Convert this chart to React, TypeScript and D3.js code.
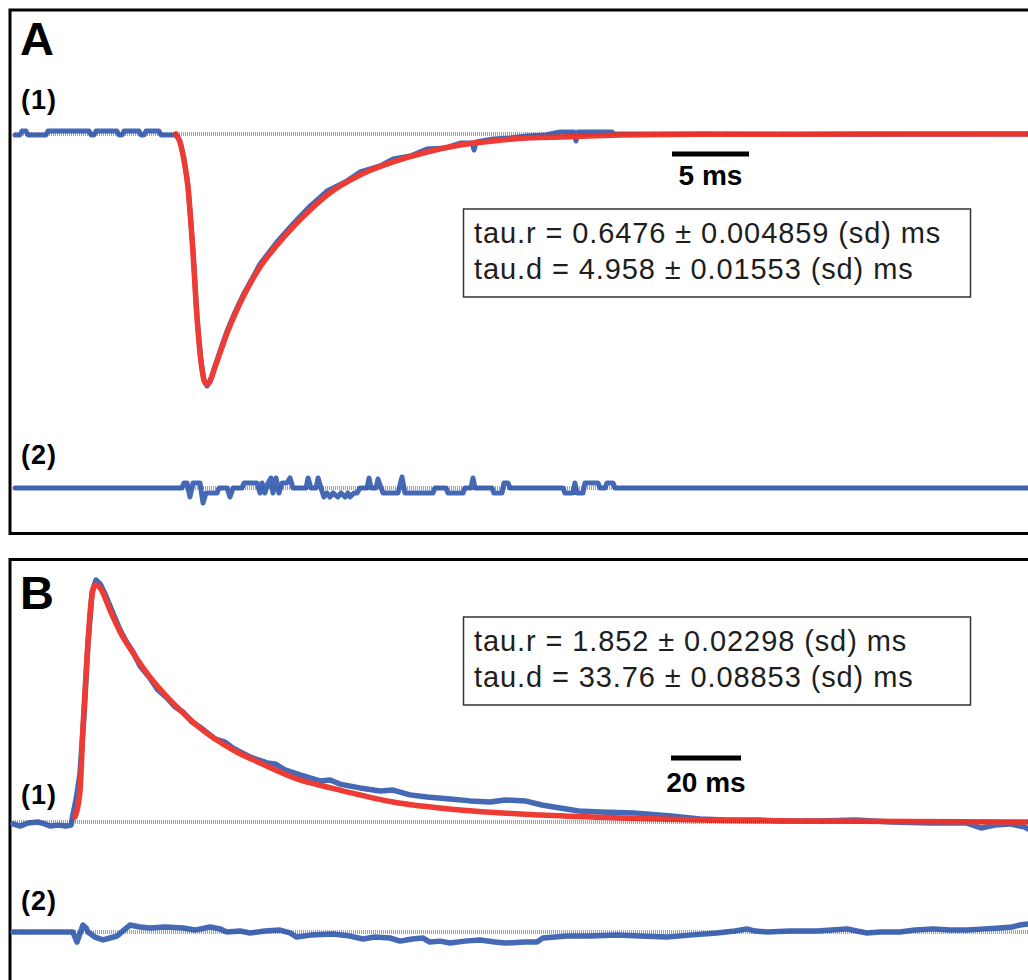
import { useEffect, useRef } from "react";
import * as d3 from "d3";

// ---- panel A (fast event), time in ms, amplitude in % of peak ----
const recordA1: [number, number][] = [
  [0, -0.4], [0.32, -0.4], [0.45, 1.2], [0.71, 1.2], [0.84, -0.4], [2.01, -0.4], [2.14, 1.2],
  [4.81, 1.2], [4.94, -0.4], [5.13, -0.4], [5.26, 1.2], [6.62, 1.2], [6.75, -0.4], [6.95, -0.4],
  [7.08, 1.2], [8.05, 1.2], [8.18, -0.4], [8.38, -0.4], [8.51, 1.2], [9.35, 1.2], [9.48, -0.4],
  [10.45, -0.4], [10.71, -2.8], [10.97, -9.6], [11.23, -20.4], [11.56, -46.8], [11.82, -73.2],
  [12.08, -90.8], [12.27, -98.4], [12.47, -100.8], [12.66, -99.2], [12.99, -92.8], [13.38, -85.6],
  [13.77, -78.8], [14.29, -71.2], [14.81, -64.4], [15.91, -52.0], [17.01, -43.2], [18.05, -36.0],
  [19.16, -28.8], [20.26, -22.8], [21.43, -19.2], [22.4, -15.2], [23.7, -12.8], [24.55, -10.0],
  [25.65, -8.8], [26.75, -6.0], [27.92, -5.6], [28.9, -3.6], [29.68, -3.6], [29.81, -6.4],
  [29.94, -3.2], [31.04, -2.0], [32.14, -1.6], [33.25, -0.8], [34.42, -0.4], [35.39, 0.8],
  [36.3, 0.8], [36.43, -2.8], [36.56, 0.8], [38.77, 0.8], [38.9, 0], [44.48, 0], [50.97, -0.2], [66, 0],
];

const fitA: [number, number][] = [
  [10.45, 0], [10.71, -3.2], [10.97, -10.4], [11.23, -21.2], [11.56, -47.6], [11.82, -73.6],
  [12.08, -91.2], [12.27, -98.4], [12.47, -100], [12.66, -98.8], [12.99, -93.2], [13.38, -86.4],
  [13.77, -79.6], [14.29, -72.0], [14.81, -65.2], [15.91, -53.2], [17.01, -44.4], [18.05, -37.2],
  [19.16, -30.4], [20.26, -24.4], [22.4, -16.4], [24.55, -11.2], [26.75, -7.2], [28.9, -4.4],
  [31.04, -2.8], [33.25, -1.6], [35.39, -1.2], [39.29, -0.4], [44.48, -0.1], [66, 0],
];

const residualA: [number, number][] = [
  [0, 0], [10.84, 0], [10.97, 2], [11.17, 2], [11.36, -3.6], [11.56, 2], [12.01, 2], [12.21, -6],
  [12.4, -2], [13.12, -2], [13.25, 0], [13.77, 0], [13.96, -3.6], [14.16, 0], [14.74, 0], [14.87, 2],
  [15.71, 2], [15.91, -2], [16.04, 2], [16.23, -2], [16.43, 2], [16.62, 4], [16.75, -2], [16.95, 4],
  [17.14, -2], [17.34, 2], [17.66, 2], [17.86, 4], [18.05, 0], [18.9, 0], [19.03, 4], [19.22, 0],
  [19.55, 0], [19.68, 4], [19.87, 0], [20.06, -3.6], [20.26, -2], [20.45, -3.6], [20.65, -2],
  [20.97, -3.6], [21.17, -2], [21.43, -3.6], [21.62, -2], [21.75, -3.6], [22.01, -2], [22.21, -2],
  [22.4, 0], [22.86, 0], [22.99, 4], [23.12, 0], [23.44, 0], [23.57, 3.6], [23.77, 0], [23.9, -2],
  [24.87, -2], [25.13, 4.4], [25.32, -2], [27.14, -2], [27.27, 0], [27.99, 0], [28.12, -2],
  [29.09, -2], [29.22, 0], [29.61, 0], [29.74, 4], [29.87, 0], [30.97, 0], [31.1, -2], [31.62, -2],
  [31.75, 2], [32.01, 2], [32.14, 0], [35.58, 0], [35.71, -2], [36.23, -2], [36.36, 2], [36.49, -2],
  [36.88, -2], [37.01, 2], [37.86, 2], [37.99, 0], [38.31, 0], [38.44, 2], [38.83, 2], [38.96, 0], [66, 0],
];

const fitTextA = ["tau.r = 0.6476 \u00b1 0.004859 (sd) ms", "tau.d = 4.958 \u00b1 0.01553 (sd) ms"];

// ---- panel B (slow event) ----
const recordB1: [number, number][] = [
  [0, -0.8], [2.0, -1.7], [4.3, -0.4], [7.1, 0], [9.1, -0.8], [10.6, -1.7], [12.9, -1.3], [15.1, -1.7],
  [16.6, -1.3], [17.1, 2.9], [18.0, 9.2], [19.1, 19.6], [20.3, 44.6], [21.4, 73.8], [22.6, 95.8],
  [23.7, 100.8], [24.9, 99.2], [26.3, 95.0], [27.7, 90.0], [30.6, 80.0], [32.6, 74.6], [34.3, 70.8],
  [36.3, 65.0], [39.1, 60.0], [41.4, 55.0], [44.0, 51.7], [46.3, 47.9], [48.6, 45.8], [51.1, 41.7],
  [53.4, 39.6], [57.7, 34.6], [60.6, 33.3], [62.9, 30.8], [67.7, 27.1], [72.6, 24.6], [74.9, 24.2],
  [77.7, 21.7], [82.0, 19.6], [87.7, 17.1], [90.6, 17.5], [93.4, 15.8], [99.1, 14.2], [104.9, 12.9],
  [108.6, 13.3], [113.4, 11.3], [118.3, 10.4], [124.9, 9.6], [130.6, 8.8], [136.3, 8.3], [140.6, 9.2],
  [146.3, 8.8], [151.1, 7.1], [156.3, 5.8], [161.7, 4.6], [167.7, 4.2], [177.4, 3.8], [188.0, 2.5],
  [196.3, 1.3], [203.7, 0.8], [213.4, 0.8], [219.7, 0.4], [230.6, 0.4], [240.6, 0.8], [251.1, 0],
  [262.0, -0.4], [272.3, -0.4], [276.6, -2.5], [280.6, -1.3], [284.9, -0.8], [289.1, -2.1], [290, -2.9],
];

const fitB: [number, number][] = [
  [17.7, 2.1], [19.1, 12.1], [20.0, 39.6], [21.1, 67.5], [22.3, 91.3], [23.4, 98.8], [24.9, 97.5],
  [27.7, 88.3], [30.6, 79.2], [34.3, 70.4], [39.1, 60.4], [44.0, 52.1], [48.6, 45.4], [53.4, 39.2],
  [62.9, 30.0], [70.6, 24.6], [82.0, 17.5], [89.7, 14.6], [93.4, 13.3], [108.6, 8.3], [127.7, 5.0],
  [150.6, 2.9], [173.4, 1.7], [196.3, 0.8], [224.9, 0.4], [290, 0],
];

const residualB: [number, number][] = [
  [0, 0], [17.1, 0], [18.3, -4.2], [19.1, -0.8], [20.0, 2.9], [20.9, 1.7], [21.4, 0], [23.4, -2.1],
  [25.7, -3.3], [27.7, -2.5], [29.7, -1.7], [31.7, 0.8], [33.4, 2.9], [36.3, 2.1], [39.1, 1.7],
  [43.4, 2.1], [48.6, 1.7], [52.0, 0.8], [56.3, 2.1], [59.1, 1.3], [61.1, 0], [64.9, 0.4], [67.7, -0.4],
  [72.0, 0.4], [76.3, 0.8], [79.1, -0.4], [81.1, -2.1], [84.9, -1.3], [91.4, -0.8], [96.3, -1.7],
  [100.0, -2.9], [103.4, -2.1], [107.7, -2.5], [110.6, -3.8], [114.0, -2.9], [117.1, -2.5],
  [119.1, -4.2], [122.0, -3.8], [124.9, -4.6], [129.1, -3.8], [133.4, -3.3], [137.7, -4.2],
  [140.6, -4.6], [146.3, -4.2], [149.7, -4.2], [151.4, -2.5], [154.9, -2.1], [158.3, -1.7],
  [164.9, -1.7], [172.6, -1.3], [179.1, -1.7], [186.9, -2.1], [193.4, -1.3], [201.1, -0.4],
  [206.3, 0.4], [209.7, 1.3], [212.0, 0.4], [215.4, 0], [222.0, 0.4], [229.7, 0.4], [234.0, 0.8],
  [238.3, 1.3], [241.1, 0.4], [244.0, -0.4], [247.7, 0], [253.4, 0], [257.7, 0.8], [262.9, 1.3],
  [267.7, 0.8], [272.6, 0.8], [277.7, 1.3], [282.0, 1.7], [285.4, 2.1], [287.7, 2.9], [290, 3.3],
];

const fitTextB = ["tau.r = 1.852 \u00b1 0.02298 (sd) ms", "tau.d = 33.76 \u00b1 0.08853 (sd) ms"];

const traceLabels = ["(1)", "(2)"];

const BLUE = "#4569b5";
const RED = "#ee3b33";
const FONT = "'Liberation Sans', Arial, sans-serif";

function drawPanel(svg, p) {
  const g = svg.append("g");

  g.append("rect")
    .attr("x", 10).attr("y", p.top)
    .attr("width", 1040).attr("height", p.height)
    .attr("fill", "#fff").attr("stroke", "#000").attr("stroke-width", 3);

  const line1 = d3.line().x(d => p.x(d[0])).y(d => p.y1(d[1]));
  const line2 = d3.line().x(d => p.x(d[0])).y(d => p.y2(d[1]));
  const fitLine = d3.line().x(d => p.x(d[0])).y(d => p.y1(d[1])).curve(d3.curveMonotoneX);

  const trace = (d, gen, color, w) =>
    g.append("path").datum(d).attr("d", gen)
      .attr("fill", "none").attr("stroke", color).attr("stroke-width", w)
      .attr("stroke-linejoin", "round").attr("stroke-linecap", "round");

  trace(p.record, line1, BLUE, p.blueW);
  trace(p.fit, fitLine, RED, 5.5);
  trace(p.residual, line2, BLUE, p.blueW);

  // dotted zero lines, on top of the traces
  const [x0, x1] = p.x.range();
  [p.y1(0), p.y2(0)].forEach(y => {
    g.append("line")
      .attr("x1", x0).attr("x2", x1).attr("y1", y).attr("y2", y)
      .attr("stroke", "#555").attr("stroke-width", 4).attr("opacity", 0.55)
      .attr("stroke-dasharray", "1 1");
  });

  g.append("text")
    .attr("x", 20).attr("y", p.letterY)
    .style("font-family", FONT).style("font-weight", 700).style("font-size", "47px")
    .text(p.letter);

  traceLabels.forEach((t, i) => {
    g.append("text")
      .attr("x", 21).attr("y", p.labelY[i])
      .style("font-family", FONT).style("font-weight", 700).style("font-size", "27px")
      .style("letter-spacing", "1px")
      .text(t);
  });

  // scale bar
  const barW = p.x(p.bar) - p.x(0);
  g.append("rect")
    .attr("x", p.barX).attr("y", p.barY - 2.5)
    .attr("width", barW).attr("height", 5).attr("fill", "#000");
  g.append("text")
    .attr("x", p.barX + barW / 2).attr("y", p.barTextY)
    .attr("text-anchor", "middle")
    .style("font-family", FONT).style("font-weight", 700).style("font-size", "28px")
    .text(`${p.bar} ms`);

  // fit results box
  g.append("rect")
    .attr("x", 463.5).attr("y", p.boxY)
    .attr("width", 507).attr("height", 88)
    .attr("fill", "#fff").attr("stroke", "#333").attr("stroke-width", 1.5);
  p.fitText.forEach((t, i) => {
    g.append("text")
      .attr("x", 474).attr("y", p.boxY + 34 + i * 36)
      .style("font-family", FONT).style("font-size", "29px")
      .style("letter-spacing", "0.9px").attr("fill", "#1e1e1e")
      .text(t);
  });
}

export default function App() {
  const ref = useRef(null);

  useEffect(() => {
    const svg = d3.select(ref.current);
    svg.selectAll("*").remove();

    const xA = d3.scaleLinear().domain([0, 66]).range([15, 1031.4]);
    drawPanel(svg, {
      top: 10, height: 523.5, letter: "A", letterY: 55, labelY: [109, 464],
      x: xA,
      y1: d3.scaleLinear().domain([-100, 0]).range([384, 134]),
      y2: d3.scaleLinear().domain([-100, 0]).range([738, 488]),
      record: recordA1, fit: fitA, residual: residualA, blueW: 5,
      bar: 5, barX: 672, barY: 154, barTextY: 185,
      boxY: 209, fitText: fitTextA,
    });

    const xB = d3.scaleLinear().domain([0, 290]).range([13, 1028]);
    drawPanel(svg, {
      top: 559.5, height: 500, letter: "B", letterY: 609, labelY: [804, 910],
      x: xB,
      y1: d3.scaleLinear().domain([0, 100]).range([822, 582]),
      y2: d3.scaleLinear().domain([0, 100]).range([932, 692]),
      record: recordB1, fit: fitB, residual: residualB, blueW: 5.5,
      bar: 20, barX: 671, barY: 758, barTextY: 792,
      boxY: 617, fitText: fitTextB,
    });
  }, []);

  return (
    <svg ref={ref} width={1028} height={980}
      style={{ position: "absolute", left: 0, top: 0, background: "#fff" }} />
  );
}
